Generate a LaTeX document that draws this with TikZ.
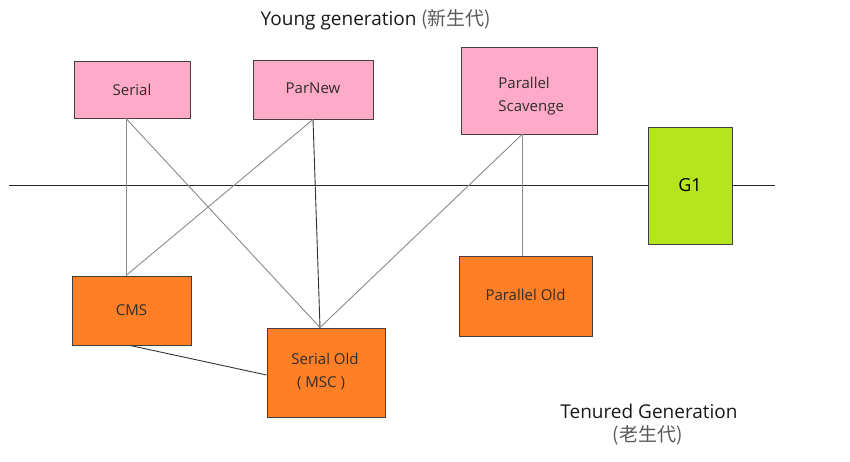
\documentclass[tikz,border=0pt]{standalone}
\usepackage{fontspec}
\setmainfont{Open Sans}
\newfontfamily\cjk{Noto Sans CJK SC}
\usetikzlibrary{calc}
\definecolor{pinkbox}{HTML}{FFAAC9}
\definecolor{orangebox}{HTML}{FF7F27}
\definecolor{greenbox}{HTML}{B5E61D}
\definecolor{edgegray}{HTML}{404040}
\definecolor{linkgray}{HTML}{8A8A8A}
\definecolor{textgray}{HTML}{2E2E2E}
\tikzset{
  gcbox/.style={draw=edgegray, line width=0.9pt, inner sep=0pt, font=\fontsize{15}{20}\selectfont, text=textgray},
  young/.style={gcbox, fill=pinkbox},
  old/.style={gcbox, fill=orangebox},
  gone/.style={gcbox, fill=greenbox, font=\fontsize{18}{22}\selectfont, text=black},
  link/.style={draw=linkgray, line width=0.9pt},
  darklink/.style={draw=black!80, line width=0.9pt},
  divider/.style={draw=black!85, line width=0.9pt},
  caption/.style={font=\fontsize{19}{23}\selectfont, text=black!90}
}
\begin{document}
\begin{tikzpicture}[x=1pt,y=-1pt]
\useasboundingbox (0,0) rectangle (850,462);
% boxes
\node[young, minimum width=116, minimum height=57] (serial) at (132,89.5) {Serial};
\node[young, minimum width=120, minimum height=59] (parnew) at (313,89.5) {\raisebox{2pt}{ParNew}};
\node[young, minimum width=136, minimum height=87] (ps) at (529,90.5) {};
\node[gone, minimum width=84, minimum height=117] (g1) at (690,185.5) {G1};
\node[old, minimum width=119, minimum height=69] (cms) at (131.5,310.5) {CMS};
\node[old, minimum width=118, minimum height=89] (so) at (326,372.5) {};
\node[old, minimum width=133, minimum height=80] (po) at (525.5,296) {\raisebox{1.5pt}{Parallel Old}};
% box texts on two lines
\node[gcbox, draw=none, anchor=west] (pstop) at (498,83) {Parallel};
\node[gcbox, draw=none, anchor=west] (psbot) at (498,108) {Scavenge};
\node[gcbox, draw=none] (sotop) at (325,358.5) {Serial Old};
\node[gcbox, draw=none] (sobot) at (321,383.5) {( MSC )};
% divider
\coordinate (lineL) at (9,185.5);
\coordinate (lineR) at (775,185.5);
\draw[divider] (lineL) -- (g1.west);
\draw[divider] (g1.east) -- (lineR);
% links
\draw[link] ([xshift=-6pt]serial.south) -- ([xshift=-5.5pt]cms.north);
\draw[link] ([xshift=-6pt]serial.south) -- ([xshift=-6pt]so.north);
\draw[link] (parnew.south) -- ([xshift=-5.5pt]cms.north);
\draw[darklink] (parnew.south) -- ([xshift=-6pt]so.north);
\draw[link] ([xshift=-7pt]ps.south) -- ([xshift=-6pt]so.north);
\draw[link] ([xshift=-7pt]ps.south) -- ([xshift=-3.5pt]po.north);
\draw[darklink] ([xshift=-1.5pt]cms.south) -- ([yshift=-2.5pt]so.west);
% captions
\node[caption] (young) at (376,20) {Young generation {\cjk\color{black!65}(新生代)}};
\node[caption] (tenured) at (649,411.5) {Tenured Generation};
\node[caption] (tenuredcn) at (647.5,435) {\cjk\color{black!65}(老生代)};
\end{tikzpicture}
\end{document}
